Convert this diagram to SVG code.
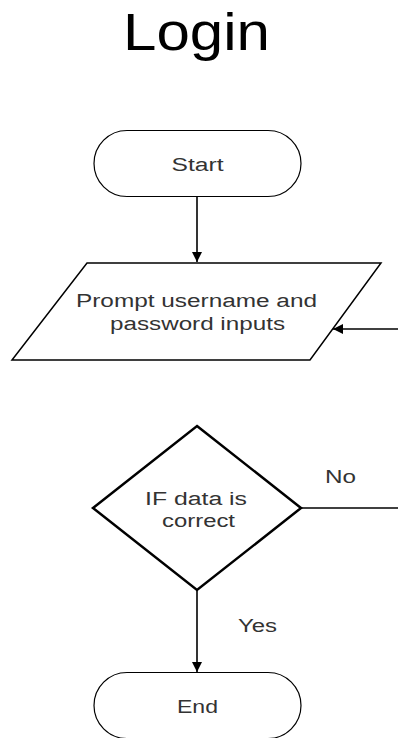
<svg xmlns="http://www.w3.org/2000/svg" width="398" height="738" viewBox="0 0 398 738">
  <style>
    .shape { fill: #ffffff; stroke: #000000; }
    .label { font-family: "Liberation Sans", Arial, sans-serif; font-size: 18px; fill: #333333; text-anchor: middle; }
    .edge { fill: none; stroke: #000000; stroke-width: 1.6; }
    .title { font-family: "Liberation Sans", Arial, sans-serif; font-size: 51px; fill: #000000; }
  </style>
  <defs>
    <marker id="arrow" viewBox="0 0 10 10" refX="10" refY="5" markerWidth="10" markerHeight="10" markerUnits="userSpaceOnUse" orient="auto">
      <path d="M0,0 L10,5 L0,10 z" fill="#000000"/>
    </marker>
  </defs>
  <rect width="398" height="738" fill="#ffffff"/>

  <text class="title" x="123" y="50" textLength="147" lengthAdjust="spacingAndGlyphs">Login</text>

  <g id="start">
    <rect class="shape" x="94" y="130.5" width="207" height="66" rx="33" ry="33" stroke-width="1.2"/>
    <text class="label" x="197.5" y="171" textLength="52" lengthAdjust="spacingAndGlyphs">Start</text>
  </g>

  <g id="prompt">
    <polygon class="shape" points="87,263 381,263 310,360 12,360" stroke-width="1.5"/>
    <text class="label" x="196.5" y="307" textLength="241" lengthAdjust="spacingAndGlyphs">Prompt username and</text>
    <text class="label" x="197.5" y="330" textLength="175" lengthAdjust="spacingAndGlyphs">password inputs</text>
  </g>

  <g id="decision">
    <polygon class="shape" points="197,426 301,508 197,590 93,508" stroke-width="2.5"/>
    <text class="label" x="196" y="505" textLength="102" lengthAdjust="spacingAndGlyphs">IF data is</text>
    <text class="label" x="198.5" y="527" textLength="73" lengthAdjust="spacingAndGlyphs">correct</text>
  </g>

  <g id="end">
    <rect class="shape" x="94" y="672.5" width="207" height="66" rx="33" ry="33" stroke-width="1.2"/>
    <text class="label" x="197.5" y="713" textLength="41" lengthAdjust="spacingAndGlyphs">End</text>
  </g>

  <g id="connectors">
    <line class="edge" x1="197" y1="197" x2="197" y2="262" marker-end="url(#arrow)"/>
    <line class="edge" x1="398" y1="329" x2="333" y2="329" marker-end="url(#arrow)"/>
    <line class="edge" x1="301" y1="508" x2="398" y2="508"/>
    <line class="edge" x1="197" y1="590" x2="197" y2="672" marker-end="url(#arrow)"/>
    <text class="label" x="340.5" y="483" textLength="31" lengthAdjust="spacingAndGlyphs">No</text>
    <text class="label" x="257.5" y="632" textLength="39" lengthAdjust="spacingAndGlyphs">Yes</text>
  </g>
</svg>
